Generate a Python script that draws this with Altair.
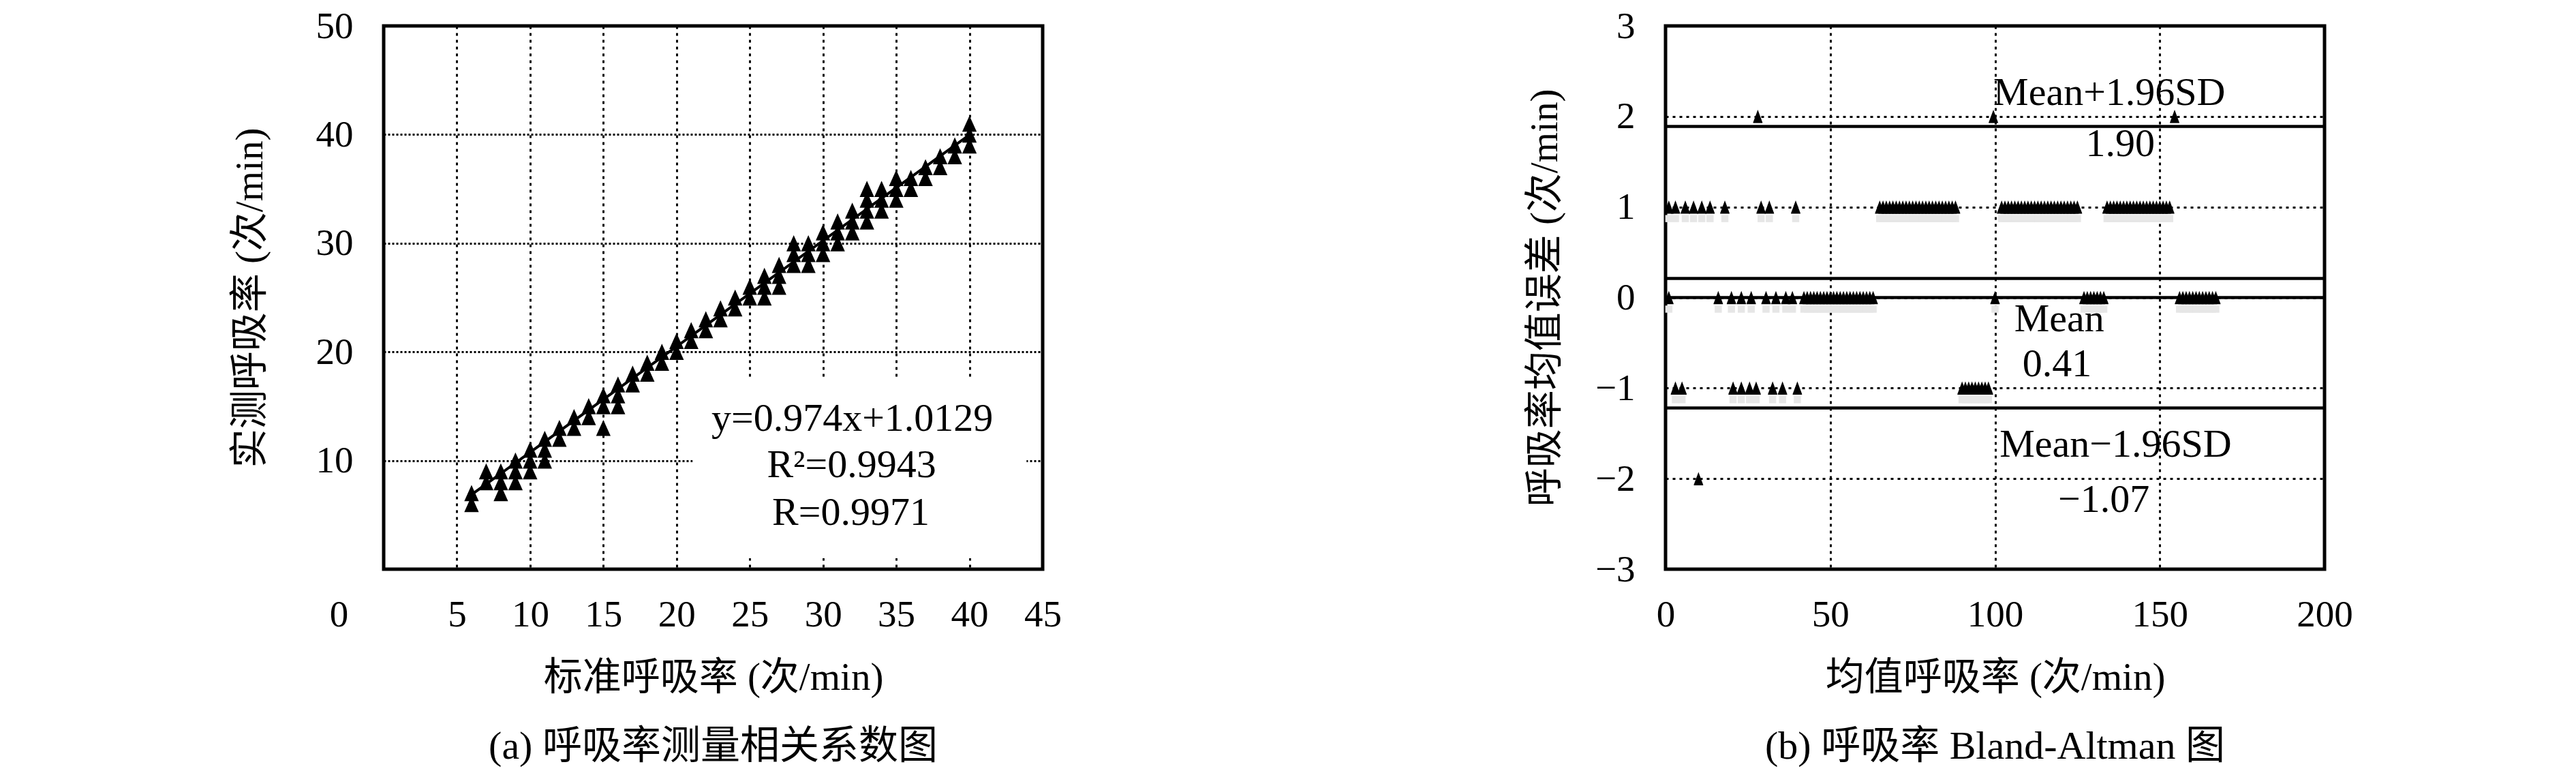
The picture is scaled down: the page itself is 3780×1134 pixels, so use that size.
import altair as alt
import pandas as pd

# ---------------- panel (a): correlation ----------------
STD_RATE = [6, 6, 7, 7, 8, 8, 8, 9, 9, 9, 10, 10, 10, 11, 11, 11, 12, 12, 13, 13,
            14, 14, 15, 15, 15, 16, 16, 16, 17, 17, 18, 18, 19, 19, 20, 20, 21, 21,
            22, 22, 23, 23, 24, 24, 25, 25, 26, 26, 26, 27, 27, 27, 28, 28, 28,
            29, 29, 29, 30, 30, 30, 31, 31, 31, 32, 32, 32, 33, 33, 33, 33,
            34, 34, 34, 35, 35, 35, 36, 36, 37, 37, 38, 38, 39, 39, 40, 40, 40]
MEAS_RATE = [6, 7, 8, 9, 7, 8, 9, 8, 9, 10, 9, 10, 11, 10, 11, 12, 12, 13, 13, 14,
             14, 15, 13, 15, 16, 15, 16, 17, 17, 18, 18, 19, 19, 20, 20, 21, 21, 22,
             22, 23, 23, 24, 24, 25, 25, 26, 25, 26, 27, 26, 27, 28, 28, 29, 30,
             28, 29, 30, 29, 30, 31, 30, 31, 32, 31, 32, 33, 32, 33, 34, 35,
             33, 34, 35, 34, 35, 36, 35, 36, 36, 37, 37, 38, 38, 39, 39, 40, 41]
FIT_SLOPE = 0.974
FIT_INTERCEPT = 1.0129
FIT_X = [6, 40]
A_TEXT = ["y=0.974x+1.0129", "R²=0.9943", "R=0.9971"]
A_X = [32.0, 31.95, 31.9]
A_Y = [12.75, 8.44, 4.06]
MASK_X = [21.1, 43.9]
MASK_Y = [1.0, 17.6]
A_XTICKS = [0, 5, 10, 15, 20, 25, 30, 35, 40, 45]
A_YTICKS = [10, 20, 30, 40, 50]

# ---------------- panel (b): Bland-Altman ----------------
DIFF_P2 = [28, 99.5, 154.5]
DIFF_P1 = [1, 3, 6, 8.5, 11, 13.5, 18, 29, 31.5, 39.5,
           65, 66, 67, 68, 69, 70, 71, 72, 73, 74, 75, 76, 77, 78, 79, 80, 81, 82,
           83, 84, 85, 86, 87, 88,
           102, 103, 104, 105, 106, 107, 108, 109, 110, 111, 112, 113, 114, 115,
           116, 117, 118, 119, 120, 121, 122, 123, 124, 125,
           134, 135, 136, 137, 138, 139, 140, 141, 142, 143, 144, 145, 146, 147,
           148, 149, 150, 151, 152, 153]
DIFF_0 = [1, 16, 20, 23, 26, 30.5, 33.5, 36.5, 38.5,
          42, 43, 44, 45, 46, 47, 48, 49, 50, 51, 52, 53, 54, 55, 56, 57, 58, 59,
          60, 61, 62, 63, 100,
          127, 128, 129, 130, 131, 132, 133,
          156, 157, 158, 159, 160, 161, 162, 163, 164, 165, 166, 167]
DIFF_M1 = [3, 5, 20.5, 23, 25.5, 27.5, 32.5, 35.5, 40,
           90, 91, 92, 93, 94, 95, 96, 97, 98]
DIFF_M2 = [10]
LIMIT_Y = [1.89, 0.21, -1.22, 0.0]
B_TEXT = ["Mean+1.96SD", "1.90", "Mean", "0.41", "Mean\u22121.96SD", "\u22121.07"]
B_X = [134.7, 138.0, 119.5, 118.8, 136.6, 133.0]
B_Y = [2.13, 1.56, -0.375, -0.87, -1.76, -2.37]
B_XTICKS = [0, 50, 100, 150, 200]
B_YTICKS = [-3, -2, -1, 0, 1, 2, 3]

FONT_NUM = "Liberation Serif"
FONT_MIX = "Liberation Serif, Noto Sans CJK SC"
W, H = 967, 797
TRI_A = "M0,-1L0.9,1L-0.9,1Z"
TRI_B = "M0,-1L0.7,0.9L0.7,1L-0.7,1L-0.7,0.9Z"


def axis(values, title, grid_dash, horizontal, title_pos, **kw):
    base = dict(values=values, title=title, grid=True, gridDash=grid_dash,
                gridColor="black", gridWidth=3, ticks=False, domain=False,
                labelFont=FONT_NUM, labelFontSize=55, labelColor="black",
                labelFlush=False, titleFont=FONT_MIX, titleFontSize=57,
                titleFontWeight="normal", titleColor="black",
                titleBaseline="middle", titleAlign="center")
    if horizontal:
        base.update(labelPadding=40, titleX=W / 2, titleY=title_pos)
    else:
        base.update(labelPadding=45, titleX=title_pos, titleY=H / 2, titleAngle=-90)
    base.update(kw)
    return alt.Axis(**base)


# ---- panel (a) ----
ax_x = alt.X("x:Q", scale=alt.Scale(domain=[0, 45], nice=False, zero=False),
             axis=axis(A_XTICKS, "标准呼吸率 (次/min)", [4, 6], True, 159,
                       labelOffset={"condition": {"test": "datum.value === 0", "value": -66},
                                    "value": 0}))
ax_y = alt.Y("y:Q", scale=alt.Scale(domain=[0, 50], nice=False, zero=False),
             axis=axis(A_YTICKS, "实测呼吸率 (次/min)", [3, 3], False, -196))

pts_a = pd.DataFrame({"x": STD_RATE, "y": MEAS_RATE})
fit_a = pd.DataFrame({"x": FIT_X, "y": [FIT_SLOPE * v + FIT_INTERCEPT for v in FIT_X]})
mask_a = pd.DataFrame({"x": [MASK_X[0]], "x2": [MASK_X[1]], "y": [MASK_Y[0]], "y2": [MASK_Y[1]]})
txt_a = pd.DataFrame({"x": A_X, "y": A_Y, "t": A_TEXT})

mask_layer = alt.Chart(mask_a).mark_rect(color="white").encode(x=ax_x, x2="x2", y=ax_y, y2="y2")
fit_layer = alt.Chart(fit_a).mark_line(color="black", strokeWidth=4).encode(x=ax_x, y=ax_y)
pt_layer = alt.Chart(pts_a).mark_point(shape=TRI_A, filled=True, color="black", opacity=1,
                                       size=560).encode(x=ax_x, y=ax_y)
txt_layer = alt.Chart(txt_a).mark_text(font=FONT_NUM, fontSize=58, color="black",
                                       baseline="alphabetic", align="center").encode(
    x=ax_x, y=ax_y, text="t:N")

left = alt.layer(mask_layer, fit_layer, pt_layer, txt_layer).properties(
    width=W, height=H,
    title=alt.TitleParams("(a) 呼吸率测量相关系数图", orient="bottom", font=FONT_MIX,
                          fontSize=58, fontWeight="normal", color="black",
                          offset=45, anchor="middle"))

# ---- panel (b) ----
bx = alt.X("x:Q", scale=alt.Scale(domain=[0, 200], nice=False, zero=False),
           axis=axis(B_XTICKS, "均值呼吸率 (次/min)", [4, 6], True, 159))
by = alt.Y("y:Q", scale=alt.Scale(domain=[-3, 3], nice=False, zero=False),
           axis=axis(B_YTICKS, "呼吸率均值误差 (次/min)", [4, 6], False, -177))

rows_x = DIFF_P2 + DIFF_P1 + DIFF_0 + DIFF_M1 + DIFF_M2
rows_y = ([2] * len(DIFF_P2) + [1] * len(DIFF_P1) + [0] * len(DIFF_0)
          + [-1] * len(DIFF_M1) + [-2] * len(DIFF_M2))
pts_b = pd.DataFrame({"x": rows_x, "y": rows_y})
shadow_b = pd.DataFrame({"x": DIFF_P1 + DIFF_0 + DIFF_M1,
                         "y": [1] * len(DIFF_P1) + [0] * len(DIFF_0) + [-1] * len(DIFF_M1)})
lines_b = pd.DataFrame({"y": LIMIT_Y})
txt_b = pd.DataFrame({"x": B_X, "y": B_Y, "t": B_TEXT})

shadow_layer = alt.Chart(shadow_b).mark_point(shape="square", filled=True, color="#e6e6e6",
                                              opacity=1, size=110, yOffset=17).encode(x=bx, y=by)
line_layer = alt.Chart(lines_b).mark_rule(color="black", strokeWidth=4.5).encode(y=by)
ptb_layer = alt.Chart(pts_b).mark_point(shape=TRI_B, filled=True, color="black", opacity=1,
                                        size=380).encode(x=bx, y=by)
txtb_layer = alt.Chart(txt_b).mark_text(font=FONT_NUM, fontSize=58, color="black",
                                        baseline="alphabetic", align="center").encode(
    x=bx, y=by, text="t:N")

right = alt.layer(shadow_layer, line_layer, ptb_layer, txtb_layer).properties(
    width=W, height=H,
    title=alt.TitleParams("(b) 呼吸率 Bland-Altman 图", orient="bottom", font=FONT_MIX,
                          fontSize=58, fontWeight="normal", color="black",
                          offset=45, anchor="middle"))

chart = alt.hconcat(left, right, spacing=675).properties(
    padding={"left": 327, "top": 0, "right": 0, "bottom": 0},
    background="white",
).configure_view(stroke="black", strokeWidth=5)

chart.save("out.html", embed_options={"renderer": "svg", "actions": False})
